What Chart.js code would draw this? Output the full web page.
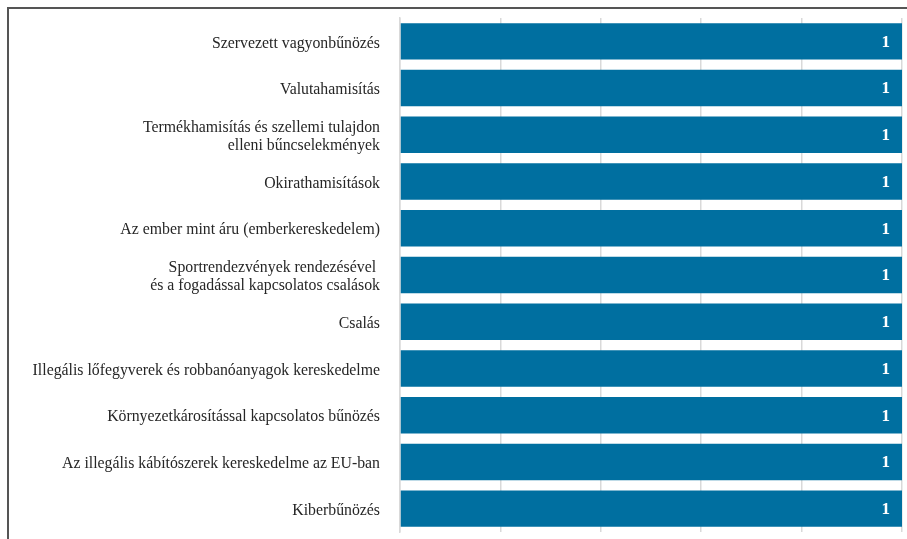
<!DOCTYPE html>
<html>
<head>
<meta charset="utf-8">
<script src="https://cdn.jsdelivr.net/npm/chart.js@4/dist/chart.umd.min.js"></script>
<style>
    html, body { margin: 0; padding: 0; background: #fff; }
    #wrap { position: relative; width: 907px; height: 539px; overflow: hidden; }
    #frame {
        position: absolute; left: 7px; top: 7px; width: 1000px; height: 1000px;
        border-top: 2px solid #555; border-left: 2px solid #555;
    }
    canvas { position: absolute; left: 0; top: 0; }
</style>
</head>
<body>
<div id="wrap">
    <div id="frame"></div>
    <canvas id="crimeChart" width="907" height="539"></canvas>
</div>
<script>
// Categories (top to bottom)
const categories = [
    'Szervezett vagyonbűnözés',
    'Valutahamisítás',
    ['Termékhamisítás és szellemi tulajdon', 'elleni bűncselekmények'],
    'Okirathamisítások',
    'Az ember mint áru (emberkereskedelem)',
    ['Sportrendezvények rendezésével ', 'és a fogadással kapcsolatos csalások'],
    'Csalás',
    'Illegális lőfegyverek és robbanóanyagok kereskedelme',
    'Környezetkárosítással kapcsolatos bűnözés',
    'Az illegális kábítószerek kereskedelme az EU-ban',
    'Kiberbűnözés'
];
const values = [1, 1, 1, 1, 1, 1, 1, 1, 1, 1, 1];
const xMin = 0;
const xMax = 1;
const xStep = 0.2;

const colors = {
    bar: '#006fa0',
    grid: '#d9d9d9',
    text: '#262626'
};

// draws the white value at the end of each bar
const valueLabels = {
    id: 'valueLabels',
    afterDatasetsDraw(chart) {
        const ctx = chart.ctx;
        const meta = chart.getDatasetMeta(0);
        ctx.save();
        ctx.fillStyle = '#fff';
        ctx.font = 'bold 17px "Liberation Serif", "Times New Roman", serif';
        ctx.textAlign = 'right';
        ctx.textBaseline = 'middle';
        meta.data.forEach((bar, i) => {
            ctx.fillText(String(values[i]), bar.x - 12, bar.y + 1);
        });
        ctx.restore();
    }
};

new Chart(document.getElementById('crimeChart').getContext('2d'), {
    type: 'bar',
    data: {
        labels: categories,
        datasets: [{
            data: values,
            backgroundColor: colors.bar,
            barPercentage: 0.78,
            categoryPercentage: 1
        }]
    },
    options: {
        indexAxis: 'y',
        responsive: false,
        animation: false,
        layout: { padding: { top: 18, right: 5, bottom: 7, left: 0 } },
        plugins: {
            legend: { display: false },
            tooltip: { enabled: false }
        },
        scales: {
            x: {
                min: xMin,
                max: xMax,
                ticks: { display: false, stepSize: xStep, padding: 0 },
                grid: { color: colors.grid, lineWidth: 1.5, drawTicks: false },
                border: { display: false },
                afterFit(scale) {
                    scale.height = 0;
                    scale.paddingLeft = 0;
                    scale.paddingRight = 0;
                }
            },
            y: {
                ticks: {
                    color: colors.text,
                    padding: 20,
                    labelOffset: 2,
                    font: { family: '"Liberation Serif", "Times New Roman", serif', size: 15.8, lineHeight: 1.12 }
                },
                grid: { display: false, drawTicks: false },
                border: { display: true, color: colors.grid, width: 1.5 },
                afterFit(scale) {
                    scale.width = 400;
                    scale.paddingTop = 0;
                    scale.paddingBottom = 0;
                }
            }
        }
    },
    plugins: [valueLabels]
});
</script>
</body>
</html>
